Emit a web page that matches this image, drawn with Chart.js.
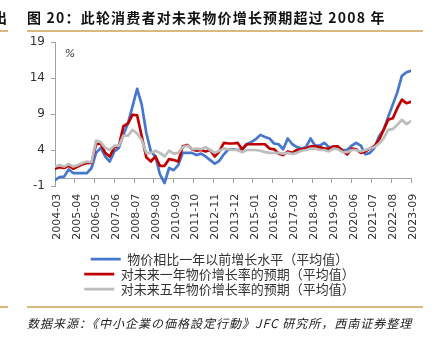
<!DOCTYPE html>
<html>
<head>
<meta charset="utf-8">
<script src="https://cdn.jsdelivr.net/npm/chart.js@4.4.1/dist/chart.umd.min.js"></script>
<style>
  html, body { margin: 0; padding: 0; background: #fff; }
  body { width: 439px; height: 344px; position: relative; overflow: hidden; font-family: "Noto Sans CJK SC", sans-serif; color: #222; }
  canvas { position: absolute; left: 0; top: 0; }
  .rule { position: absolute; height: 2px; background: #d9b77e; }
  .txt { position: absolute; white-space: nowrap; }
  #title { left: 27px; top: 9px; font-size: 14px; line-height: 16px; font-weight: 700; letter-spacing: 1.2px; color: #111; }
  #cut { left: -7px; top: 9px; font-size: 14px; line-height: 16px; font-weight: 700; color: #111; }
  #src { left: 27px; top: 315px; font-size: 12px; line-height: 16px; font-style: italic; letter-spacing: 1px; color: #222; }
</style>
</head>
<body>
<canvas id="chart" width="439" height="344"></canvas>
<div class="txt" id="cut">出</div>
<div class="txt" id="title">图 20：此轮消费者对未来物价增长预期超过 2008 年</div>
<div class="rule" style="left:0;width:8px;top:30px"></div>
<div class="rule" style="left:27px;width:396px;top:30px"></div>
<div class="rule" style="left:0;width:8px;top:306px"></div>
<div class="rule" style="left:27px;width:396px;top:306px"></div>
<div class="txt" id="src">数据来源：《中小企業の価格設定行動》JFC 研究所，西南证券整理</div>
<script>
// quarterly survey dates, 2004-03 .. 2023-09
const quarters = [];
for (let y = 2004; y <= 2023; y++) {
  for (const m of [3, 6, 9, 12]) {
    if (y === 2023 && m > 9) break;
    quarters.push(y + '-' + String(m).padStart(2, '0'));
  }
}

const tickLabels = ['2004-03', '2005-04', '2006-05', '2007-06', '2008-07', '2009-08', '2010-09',
  '2011-10', '2012-11', '2013-12', '2015-01', '2016-02', '2017-03', '2018-04', '2019-05',
  '2020-06', '2021-07', '2022-08', '2023-09'];
const yTicks = [-1, 4, 9, 14, 19];

// 物价相比一年以前增长水平
const pastGrowth = [
  -0.2, 0.25, 0.3, 1.3, 0.8, 0.8, 0.8, 0.8, 1.5, 3.6,
  4.3, 3.1, 2.4, 3.8, 4.3, 6.1, 7.75, 10.1, 12.5, 10.3,
  6.4, 3.8, 3.1, 0.6, -0.6, 1.5,
  1.2, 1.9, 3.6, 3.6, 3.6, 3.3, 3.5, 3.1, 2.6, 2.1,
  2.5, 3.4, 4.1, 4.1, 4.0, 4.1, 4.8, 5.1, 5.5, 6.1,
  5.8, 5.6, 4.9, 4.8, 4.1, 5.6, 4.8,
  4.4, 4.2, 4.4, 5.6, 4.6, 4.6, 5.0, 4.4, 4.4, 4.3,
  4.0, 4.0, 4.6, 5.0, 4.6, 3.4, 3.6, 4.3, 5.9, 6.8,
  8.6, 10.3, 12.0, 14.3, 14.8, 15.0
];
// 对未来一年物价增长率的预期
const expect1y = [
  1.4, 1.6, 1.5, 1.8, 1.4, 1.7, 2.0, 2.2, 2.2, 4.8,
  4.9, 3.6, 3.1, 4.4, 4.6, 7.3, 7.7, 8.9, 8.8, 5.9,
  3.0, 2.4, 3.1, 1.8, 1.8, 2.75,
  2.6, 2.4, 4.5, 4.7, 4.1, 3.9, 4.0, 3.8, 4.0, 3.1,
  3.8, 5.0, 4.9, 4.9, 5.0, 4.1, 4.8, 4.8, 4.8, 4.8,
  4.8, 4.2, 4.1, 3.5, 3.3, 3.8, 3.6,
  4.0, 4.1, 4.2, 4.5, 4.5, 4.4, 4.2, 4.2, 4.5, 4.5,
  3.9, 3.4, 4.2, 4.1, 3.6, 3.8, 4.2, 4.55, 5.4, 6.8,
  8.2, 8.4, 9.8, 11.0, 10.5, 10.7
];
// 对未来五年物价增长率的预期
const expect5y = [
  1.7, 1.9, 1.7, 2.05, 1.7, 1.9, 2.2, 2.4, 2.3, 5.3,
  5.1, 4.3, 4.0, 4.6, 4.6, 6.0, 6.0, 6.8, 6.3, 5.4,
  3.6, 3.6, 3.9, 3.6, 3.1, 3.9,
  3.5, 3.6, 4.4, 4.6, 4.1, 4.2, 4.1, 4.4, 4.0, 3.6,
  3.9, 4.2, 4.1, 4.0, 4.0, 3.7, 4.0, 4.0, 4.0, 3.9,
  3.7, 3.6, 3.6, 3.6, 3.5, 3.6, 3.45,
  3.6, 3.9, 4.0, 4.2, 4.2, 4.0, 4.0, 3.8, 4.2, 4.1,
  3.7, 3.7, 4.0, 4.0, 3.8, 4.0, 4.2, 4.4, 4.9, 5.6,
  6.8, 6.9, 7.5, 8.2, 7.6, 8.0
];

// months since 2004-03
const monthIndex = s => {
  const [y, m] = s.split('-').map(Number);
  return (y - 2004) * 12 + m - 3;
};
const toPoints = vals => vals.map((v, i) => ({ x: monthIndex(quarters[i]), y: v }));

const axisGray = '#a0a0a0';
const tickFont = { family: 'DejaVu Sans', size: 11 };

const percentLabel = {
  id: 'percentLabel',
  afterDraw(chart) {
    const { ctx, chartArea } = chart;
    ctx.save();
    ctx.font = 'italic 11px "DejaVu Sans"';
    ctx.fillStyle = '#333';
    ctx.textAlign = 'center';
    ctx.textBaseline = 'middle';
    ctx.fillText('%', chartArea.left + 15, chartArea.top + 12);
    ctx.restore();
  }
};

const line = (label, vals, color, order) => ({
  label,
  data: toPoints(vals),
  borderColor: color,
  backgroundColor: color,
  borderWidth: 2.7,
  pointRadius: 0,
  tension: 0,
  borderJoinStyle: 'round',
  borderCapStyle: 'round',
  order
});

new Chart(document.getElementById('chart'), {
  type: 'line',
  data: {
    datasets: [
      line('物价相比一年以前增长水平（平均值）', pastGrowth, '#4677cc', 3),
      line('对未来一年物价增长率的预期（平均值）', expect1y, '#c00000', 2),
      line('对未来五年物价增长率的预期（平均值）', expect5y, '#bdbdbd', 1)
    ]
  },
  options: {
    responsive: false,
    animation: false,
    layout: { padding: { left: 28, right: 28, top: 42, bottom: 38.3 } },
    scales: {
      x: {
        type: 'linear',
        position: { y: 0 },
        min: monthIndex(tickLabels[0]),
        max: monthIndex(tickLabels[tickLabels.length - 1]),
        afterBuildTicks: scale => { scale.ticks = tickLabels.map(t => ({ value: monthIndex(t) })); },
        grid: { drawOnChartArea: false, drawTicks: true, tickLength: 4, color: axisGray },
        border: { color: axisGray, width: 1 },
        ticks: {
          autoSkip: false,
          minRotation: 90,
          maxRotation: 90,
          padding: 11,
          labelOffset: 2,
          color: '#333',
          font: tickFont,
          callback: v => tickLabels.find(t => monthIndex(t) === v) || ''
        }
      },
      y: {
        min: -1,
        max: 19,
        afterBuildTicks: scale => { scale.ticks = yTicks.map(v => ({ value: v })); },
        afterFit: scale => { scale.width = 27; },
        grid: { drawOnChartArea: false, drawTicks: true, tickLength: 4, color: axisGray },
        border: { color: axisGray, width: 1 },
        ticks: { padding: 6, color: '#333', font: { family: 'DejaVu Sans', size: 12 } }
      }
    },
    plugins: {
      tooltip: { enabled: false },
      legend: {
        position: 'bottom',
        title: { display: true, text: '', font: { size: 12 }, padding: { top: 50.3, bottom: 0 } },
        labels: {
          usePointStyle: true,
          pointStyle: 'line',
          pointStyleWidth: 30,
          padding: 2,
          color: '#333',
          font: { family: 'Noto Sans CJK SC', size: 13 },
          sort: (a, b) => a.datasetIndex - b.datasetIndex
        }
      }
    }
  },
  plugins: [percentLabel]
});
</script>
</body>
</html>
